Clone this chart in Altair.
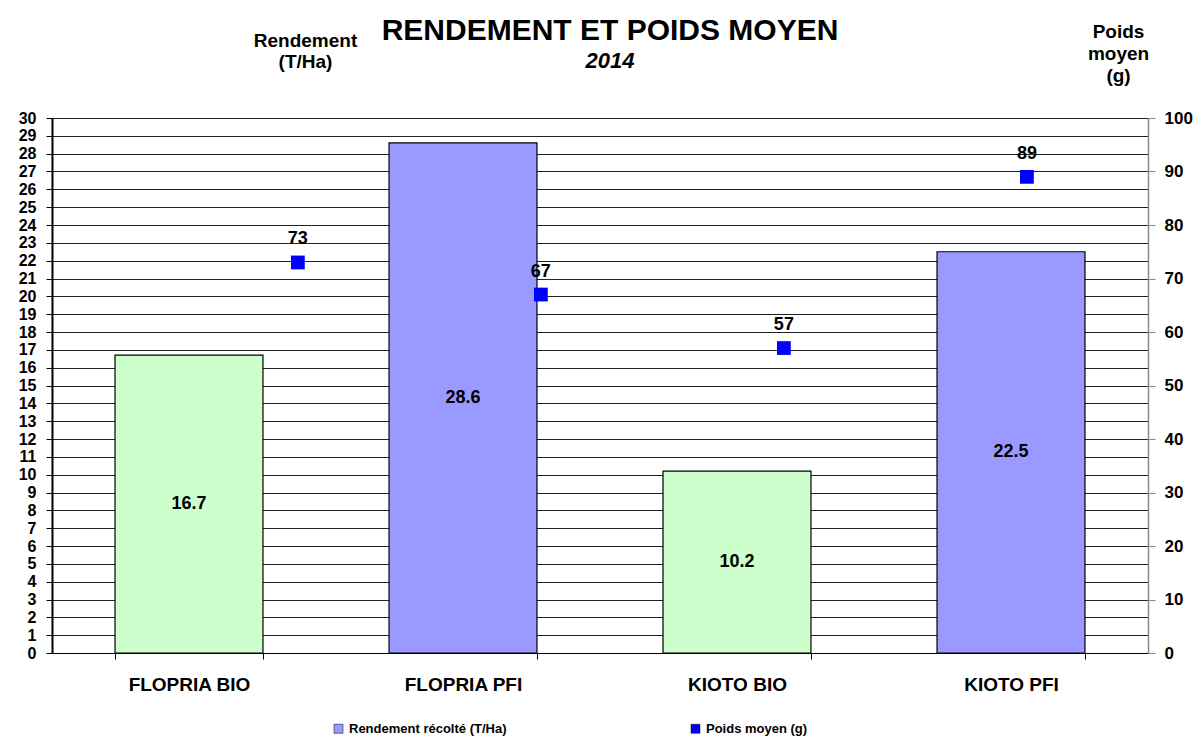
import altair as alt
import pandas as pd

categories = ["FLOPRIA BIO", "FLOPRIA PFI", "KIOTO BIO", "KIOTO PFI"]
rendement = [16.7, 28.6, 10.2, 22.5]
poids = [73, 67, 57, 89]
bar_colors = ["#CCFFCC", "#9999FF", "#CCFFCC", "#9999FF"]
series = ["Rendement récolté (T/Ha)", "Poids moyen (g)"]
series_colors = ["#9999FF", "#0000FF"]
left_ticks = list(range(0, 31))
right_ticks = list(range(0, 101, 10))

df = pd.DataFrame({
    "cat": categories,
    "rend": rendement,
    "poids": poids,
    "fillcol": bar_colors,
    "serie": series[1],
})

FONT = "Liberation Sans"

x_band = alt.X(
    "cat:N", sort=categories,
    scale=alt.Scale(paddingInner=0.46, paddingOuter=0.23),
    axis=alt.Axis(title=None, labelAngle=0, labelFontSize=19, labelFontWeight="bold",
                  labelColor="black", labelPadding=16, domainColor="black",
                  tickColor="black", tickSize=6, tickBand="extent", labelFont=FONT),
)

left_axis = alt.Axis(
    values=left_ticks, title=["Rendement", "(T/Ha)"], titleAngle=0, titleX=253, titleY=-87,
    titleBaseline="top", titleAlign="center", titleFontSize=19, titleFontWeight="bold",
    titleLineHeight=21, titleColor="black", titleFont=FONT,
    grid=True, gridColor="#222222", gridWidth=1, gridOpacity=1,
    domainColor="black", domainWidth=2, tickColor="black", tickSize=6,
    labelFontSize=16, labelFontWeight="bold", labelColor="black", labelPadding=10,
    labelFont=FONT,
)
left_scale = alt.Scale(domain=[0, 30], nice=False)

bars = alt.Chart(df).mark_bar(stroke="black", strokeWidth=1.2).encode(
    x=x_band,
    y=alt.Y("rend:Q", scale=left_scale, axis=left_axis),
    fill=alt.Fill("fillcol:N", scale=None),
)

bar_text = alt.Chart(df).transform_calculate(mid="datum.rend / 2").mark_text(
    font=FONT, fontSize=18, fontWeight="bold", color="black", baseline="middle"
).encode(
    x=x_band,
    y=alt.Y("mid:Q", scale=left_scale, axis=left_axis),
    text=alt.Text("rend:Q", format=".1f"),
)

x_point = alt.X(
    "cat:N", sort=categories,
    scale=alt.Scale(type="point", padding=0.755, align=0.67),
    axis=None,
)

right_axis = alt.Axis(
    orient="right", values=right_ticks, title=["Poids", "moyen", "(g)"], titleAngle=0,
    titleX=-30, titleY=-96, titleBaseline="top", titleAlign="center", titleFontSize=19,
    titleFontWeight="bold", titleLineHeight=22, titleColor="black", titleFont=FONT,
    grid=False, domainColor="#888888", domainWidth=1.5, tickColor="#888888", tickSize=7,
    labelFontSize=17, labelFontWeight="bold", labelColor="black", labelPadding=9,
    labelFont=FONT,
)
right_scale = alt.Scale(domain=[0, 100], nice=False)

points = alt.Chart(df).mark_point(shape="square", filled=True, size=190, opacity=1).encode(
    x=x_point,
    y=alt.Y("poids:Q", scale=right_scale, axis=right_axis),
    color=alt.Color(
        "serie:N",
        scale=alt.Scale(domain=series, range=series_colors),
        legend=alt.Legend(
            title=None, orient="none", direction="horizontal", legendX=280, legendY=604,
            symbolType="square", symbolSize=81, symbolStrokeColor="black", symbolStrokeWidth=0.5,
            labelFontSize=13, labelFontWeight="bold", labelColor="black", labelFont=FONT,
            columnPadding=182, labelOffset=4,
        ),
    ),
)

point_text = alt.Chart(df).mark_text(
    font=FONT, fontSize=18, fontWeight="bold", color="black", dy=-23, baseline="middle"
).encode(
    x=x_point,
    y=alt.Y("poids:Q", scale=right_scale, axis=right_axis),
    text=alt.Text("poids:Q", format="d"),
)

chart = alt.layer(
    alt.layer(bars, bar_text),
    alt.layer(points, point_text),
).resolve_scale(
    x="independent", y="independent"
).properties(
    width=1096, height=535,
    title=alt.Title(
        text="RENDEMENT ET POIDS MOYEN", subtitle="2014", anchor="middle", frame="group",
        fontSize=30, fontWeight="bold", font=FONT, color="black",
        subtitleFontSize=22, subtitleFontWeight="bold", subtitleFontStyle="italic",
        subtitleFont=FONT, subtitleColor="black", subtitlePadding=5, offset=-50, dx=10,
    ),
    autosize=alt.AutoSizeParams(type="none"),
    padding={"left": 44, "top": 110, "right": 45, "bottom": 92},
).configure_view(stroke=None)

chart.save("out.html", embed_options={"renderer": "svg", "actions": False})
